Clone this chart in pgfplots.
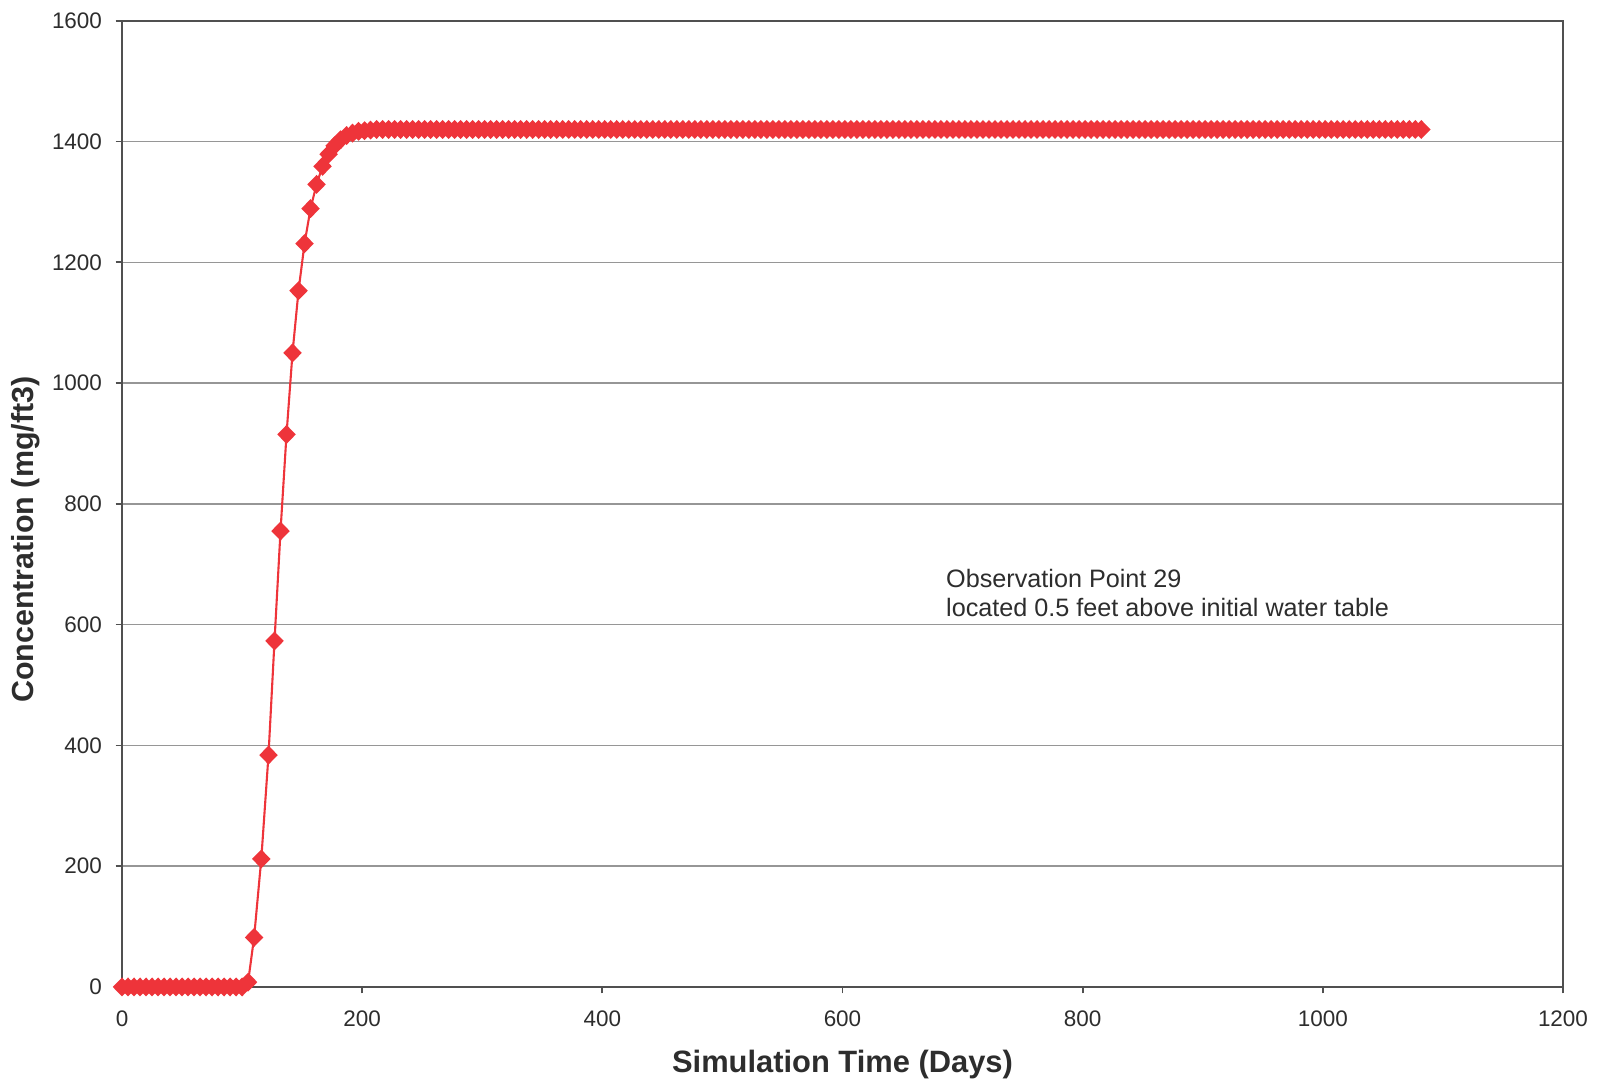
\documentclass[border=0pt]{standalone}
\usepackage{pgfplots}
\pgfplotsset{compat=1.18}
\usepackage{fontspec}
\setmainfont{Liberation Sans}
\definecolor{curvered}{RGB}{238,52,58}
\definecolor{txt}{RGB}{45,45,45}
\definecolor{gridc}{RGB}{150,150,150}
\definecolor{axc}{RGB}{80,80,80}
\begin{document}
\begin{tikzpicture}
\begin{axis}[
  scale only axis,
  width=686.2pt, height=460.1pt,
  xmin=0, xmax=1200, ymin=0, ymax=1600,
  xtick={0,200,400,600,800,1000,1200},
  ytick={0,200,400,600,800,1000,1200,1400,1600},
  minor tick num=0,
  tick align=outside,
  xtick pos=left, ytick pos=left,
  major tick length=3pt,
  tick style={axc, line width=0.8pt},
  ymajorgrids,
  major grid style={gridc, line width=0.7pt},
  axis line style={axc, line width=1pt},
  /pgf/number format/1000 sep={},
  /pgf/number format/assume math mode=true,
  ticklabel style={font=\fontsize{10.7}{12}\selectfont, text=txt},
  xticklabel style={yshift=-5pt},
  yticklabel style={xshift=-3pt},
  xlabel={Simulation Time (Days)},
  ylabel={Concentration (mg/ft3)},
  xlabel style={font=\bfseries\fontsize{14.7}{17}\selectfont, text=txt, at={(rel axis cs:0.5,0)}, anchor=north, inner sep=0pt, yshift=-30pt},
  ylabel style={font=\bfseries\fontsize{14.5}{17}\selectfont, text=txt, at={(rel axis cs:0,0.463)}, anchor=south, inner sep=0pt, yshift=39pt},
  clip=false,
]
\coordinate (ll) at (rel axis cs:0,0);
\coordinate (ur) at (rel axis cs:1,1);
\addplot[curvered, line width=1pt, mark=diamond*, mark size=3.8pt, mark options={xscale=1.3, fill=curvered, draw=curvered}]
coordinates {
(0,0)(5,0)(10,0)(15,0)(20,0)(25,0)(30,0)(35,0)(40,0)(45,0)(50,0)(55,0)(60,0)(65,0)(70,0)(75,0)(80,0)(85,0)(90,0)(95,0)(100,0)
(105,8)(110,82)(116,212)(122,384)(127,573)(132,755)(137,915)(142,1050)(147,1153)(152,1231)(157,1289)(162,1329)(167,1359)(172,1379)
(177,1393)(182,1403)(187,1410)(192,1414)(197,1417)(202,1418)(207,1419)
(212,1420)(217,1420)(222,1420)(227,1420)(232,1420)(237,1420)(242,1420)(247,1420)(252,1420)(257,1420)
(262,1420)(267,1420)(272,1420)(277,1420)(282,1420)(287,1420)(292,1420)(297,1420)(302,1420)(307,1420)
(312,1420)(317,1420)(322,1420)(327,1420)(332,1420)(337,1420)(342,1420)(347,1420)(352,1420)(357,1420)
(362,1420)(367,1420)(372,1420)(377,1420)(382,1420)(387,1420)(392,1420)(397,1420)(402,1420)(407,1420)
(412,1420)(417,1420)(422,1420)(427,1420)(432,1420)(437,1420)(442,1420)(447,1420)(452,1420)(457,1420)
(462,1420)(467,1420)(472,1420)(477,1420)(482,1420)(487,1420)(492,1420)(497,1420)(502,1420)(507,1420)
(512,1420)(517,1420)(522,1420)(527,1420)(532,1420)(537,1420)(542,1420)(547,1420)(552,1420)(557,1420)
(562,1420)(567,1420)(572,1420)(577,1420)(582,1420)(587,1420)(592,1420)(597,1420)(602,1420)(607,1420)
(612,1420)(617,1420)(622,1420)(627,1420)(632,1420)(637,1420)(642,1420)(647,1420)(652,1420)(657,1420)
(662,1420)(667,1420)(672,1420)(677,1420)(682,1420)(687,1420)(692,1420)(697,1420)(702,1420)(707,1420)
(712,1420)(717,1420)(722,1420)(727,1420)(732,1420)(737,1420)(742,1420)(747,1420)(752,1420)(757,1420)
(762,1420)(767,1420)(772,1420)(777,1420)(782,1420)(787,1420)(792,1420)(797,1420)(802,1420)(807,1420)
(812,1420)(817,1420)(822,1420)(827,1420)(832,1420)(837,1420)(842,1420)(847,1420)(852,1420)(857,1420)
(862,1420)(867,1420)(872,1420)(877,1420)(882,1420)(887,1420)(892,1420)(897,1420)(902,1420)(907,1420)
(912,1420)(917,1420)(922,1420)(927,1420)(932,1420)(937,1420)(942,1420)(947,1420)(952,1420)(957,1420)
(962,1420)(967,1420)(972,1420)(977,1420)(982,1420)(987,1420)(992,1420)(997,1420)(1002,1420)(1007,1420)
(1012,1420)(1017,1420)(1022,1420)(1027,1420)(1032,1420)(1037,1420)(1042,1420)(1047,1420)(1052,1420)(1057,1420)
(1062,1420)(1067,1420)(1072,1420)(1077,1420)(1082,1420)
};
\node[anchor=base west, align=left, font=\fontsize{12}{13.8}\selectfont, text=txt, inner sep=0pt] at (axis cs:686,613)
  {Observation Point 29\\located 0.5 feet above initial water table};
\end{axis}
\pgfresetboundingbox
\path ([xshift=-58.1pt, yshift=-43.8pt] ll) rectangle ([xshift=16.2pt, yshift=9.9pt] ur);
\end{tikzpicture}
\end{document}
